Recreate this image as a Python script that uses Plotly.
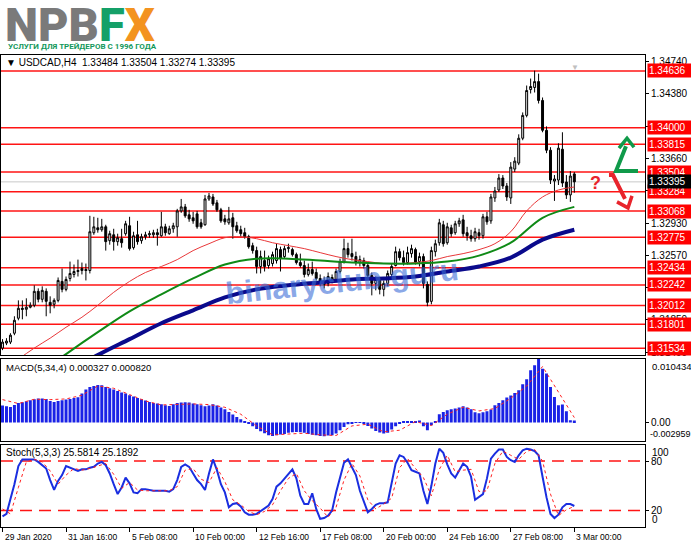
import plotly.graph_objects as go

W, H = 691, 549
FONT = "Liberation Sans, Arial, sans-serif"

# USDCAD H4, index 0 = 29 Jan 2020 00:00
opens = [1.31535, 1.31591, 1.31602, 1.31701, 1.31869, 1.31980, 1.31969, 1.31992, 1.32014, 1.32170,
         1.32081, 1.32170, 1.32047, 1.32025, 1.32069, 1.32281, 1.32192, 1.32314, 1.32359, 1.32392,
         1.32403, 1.32414, 1.32403, 1.32826, 1.32881, 1.32859, 1.32892, 1.32737, 1.32803, 1.32726,
         1.32759, 1.32815, 1.32904, 1.32659, 1.32803, 1.32737, 1.32781, 1.32803, 1.32803, 1.32826,
         1.32792, 1.32892, 1.32815, 1.32870, 1.32892, 1.33070, 1.33115, 1.33026, 1.32993, 1.33037,
         1.32937, 1.32915, 1.33204, 1.33226, 1.33160, 1.33082, 1.32981, 1.32937, 1.32993, 1.32904,
         1.32859, 1.32826, 1.32781, 1.32681, 1.32626, 1.32448, 1.32514, 1.32459, 1.32481, 1.32514,
         1.32637, 1.32559, 1.32648, 1.32637, 1.32581, 1.32492, 1.32459, 1.32359, 1.32414, 1.32381,
         1.32314, 1.32270, 1.32259, 1.32325, 1.32303, 1.32392, 1.32503, 1.32648, 1.32592, 1.32559,
         1.32492, 1.32514, 1.32459, 1.32347, 1.32259, 1.32292, 1.32192, 1.32259, 1.32359, 1.32459,
         1.32614, 1.32547, 1.32492, 1.32592, 1.32637, 1.32503, 1.32559, 1.32248, 1.32058, 1.32614,
         1.32714, 1.32915, 1.32714, 1.32881, 1.32826, 1.32926, 1.32970, 1.32826, 1.32792, 1.32759,
         1.32826, 1.32792, 1.33004, 1.32959, 1.33215, 1.33304, 1.33438, 1.33349, 1.33215, 1.33538,
         1.33605, 1.33883, 1.34139, 1.34428, 1.34451, 1.34517, 1.34306, 1.33972, 1.33749, 1.33404,
         1.33415, 1.33760, 1.33393, 1.33249, 1.33484]
highs = [1.31635, 1.31646, 1.31701, 1.31891, 1.32069, 1.32069, 1.32092, 1.32047, 1.32237, 1.32203,
         1.32226, 1.32203, 1.32114, 1.32092, 1.32325, 1.32425, 1.32336, 1.32503, 1.32470, 1.32525,
         1.32492, 1.32481, 1.33015, 1.33004, 1.32993, 1.32981, 1.32915, 1.32848, 1.32870, 1.32815,
         1.32870, 1.32959, 1.33004, 1.32837, 1.32959, 1.32815, 1.32837, 1.32848, 1.32859, 1.32870,
         1.33059, 1.32926, 1.32904, 1.32937, 1.33093, 1.33204, 1.33148, 1.33082, 1.33059, 1.33070,
         1.32981, 1.33249, 1.33271, 1.33260, 1.33193, 1.33104, 1.33026, 1.33115, 1.33048, 1.32948,
         1.32904, 1.32881, 1.32803, 1.32714, 1.32670, 1.32626, 1.32626, 1.32570, 1.32614, 1.32703,
         1.32670, 1.32681, 1.32703, 1.32659, 1.32603, 1.32592, 1.32514, 1.32481, 1.32503, 1.32425,
         1.32359, 1.32336, 1.32381, 1.32359, 1.32425, 1.32536, 1.32759, 1.32714, 1.32759, 1.32614,
         1.32570, 1.32547, 1.32492, 1.32381, 1.32336, 1.32325, 1.32292, 1.32403, 1.32481, 1.32670,
         1.32648, 1.32626, 1.32670, 1.32692, 1.32659, 1.32603, 1.32592, 1.32281, 1.32670, 1.32748,
         1.32981, 1.32959, 1.32937, 1.32915, 1.32959, 1.32993, 1.33026, 1.32892, 1.32859, 1.32881,
         1.32870, 1.33037, 1.33059, 1.33260, 1.33338, 1.33482, 1.33471, 1.33382, 1.33616, 1.33671,
         1.33927, 1.34172, 1.34473, 1.34551, 1.34640, 1.34606, 1.34339, 1.34016, 1.33783, 1.33471,
         1.33827, 1.33950, 1.33471, 1.33516, 1.33504]
lows = [1.31512, 1.31568, 1.31580, 1.31679, 1.31846, 1.31857, 1.31891, 1.31980, 1.31992, 1.32047,
        1.32047, 1.31891, 1.31924, 1.31980, 1.32047, 1.32159, 1.32170, 1.32281, 1.32325, 1.32336,
        1.32359, 1.32292, 1.32370, 1.32803, 1.32826, 1.32837, 1.32626, 1.32692, 1.32626, 1.32681,
        1.32659, 1.32792, 1.32626, 1.32637, 1.32692, 1.32703, 1.32748, 1.32770, 1.32770, 1.32681,
        1.32781, 1.32792, 1.32803, 1.32826, 1.32781, 1.33048, 1.32993, 1.32948, 1.32926, 1.32870,
        1.32870, 1.32904, 1.33182, 1.33126, 1.33059, 1.32937, 1.32915, 1.32915, 1.32759, 1.32826,
        1.32781, 1.32759, 1.32648, 1.32592, 1.32370, 1.32370, 1.32392, 1.32425, 1.32448, 1.32481,
        1.32392, 1.32536, 1.32603, 1.32559, 1.32470, 1.32436, 1.32325, 1.32336, 1.32347, 1.32292,
        1.32226, 1.32203, 1.32226, 1.32259, 1.32281, 1.32370, 1.32481, 1.32547, 1.32514, 1.32459,
        1.32448, 1.32425, 1.32314, 1.32125, 1.32181, 1.32136, 1.32114, 1.32226, 1.32314, 1.32448,
        1.32514, 1.32459, 1.32470, 1.32547, 1.32470, 1.32448, 1.32203, 1.32003, 1.32025, 1.32559,
        1.32681, 1.32670, 1.32692, 1.32781, 1.32803, 1.32892, 1.32781, 1.32737, 1.32726, 1.32726,
        1.32748, 1.32759, 1.32915, 1.32926, 1.33171, 1.33282, 1.33315, 1.33182, 1.33148, 1.33505,
        1.33582, 1.33861, 1.34117, 1.34384, 1.34395, 1.34272, 1.33950, 1.33716, 1.33371, 1.33182,
        1.33360, 1.33338, 1.33204, 1.33171, 1.33274]
closes = [1.31602, 1.31613, 1.31679, 1.31846, 1.31980, 1.31969, 1.31992, 1.32014, 1.32170, 1.32081,
          1.32181, 1.32058, 1.32014, 1.32069, 1.32292, 1.32192, 1.32303, 1.32370, 1.32392, 1.32403,
          1.32425, 1.32403, 1.32837, 1.32892, 1.32859, 1.32892, 1.32726, 1.32815, 1.32726, 1.32770,
          1.32714, 1.32926, 1.32648, 1.32792, 1.32726, 1.32781, 1.32803, 1.32815, 1.32826, 1.32803,
          1.32892, 1.32826, 1.32870, 1.32904, 1.33070, 1.33115, 1.33015, 1.32981, 1.32959, 1.32892,
          1.32892, 1.33204, 1.33237, 1.33148, 1.33082, 1.32959, 1.32948, 1.32981, 1.32892, 1.32848,
          1.32815, 1.32781, 1.32670, 1.32626, 1.32448, 1.32559, 1.32448, 1.32536, 1.32581, 1.32648,
          1.32536, 1.32648, 1.32659, 1.32581, 1.32492, 1.32459, 1.32359, 1.32414, 1.32370, 1.32314,
          1.32259, 1.32248, 1.32336, 1.32303, 1.32392, 1.32503, 1.32648, 1.32581, 1.32559, 1.32492,
          1.32525, 1.32459, 1.32347, 1.32259, 1.32303, 1.32192, 1.32259, 1.32370, 1.32448, 1.32614,
          1.32547, 1.32492, 1.32603, 1.32648, 1.32492, 1.32559, 1.32259, 1.32047, 1.32626, 1.32703,
          1.32937, 1.32703, 1.32892, 1.32815, 1.32926, 1.32959, 1.32815, 1.32792, 1.32759, 1.32837,
          1.32792, 1.33004, 1.32948, 1.33226, 1.33293, 1.33438, 1.33349, 1.33226, 1.33560, 1.33627,
          1.33883, 1.34139, 1.34417, 1.34462, 1.34517, 1.34306, 1.33972, 1.33749, 1.33415, 1.33427,
          1.33772, 1.33382, 1.33249, 1.33460, 1.33395]

# moving averages
ma_fast_idx = list(range(0, 145, 4))
ma_fast = [1.31290, 1.31412, 1.31535, 1.31646, 1.31768, 1.31880, 1.32014, 1.32159, 1.32281, 1.32381,
           1.32448, 1.32525, 1.32626, 1.32703, 1.32770, 1.32781, 1.32759, 1.32714, 1.32681, 1.32648,
           1.32603, 1.32559, 1.32525, 1.32503, 1.32481, 1.32481, 1.32492, 1.32514, 1.32559, 1.32592,
           1.32637, 1.32703, 1.32837, 1.33070, 1.33226, 1.33304, 1.33338]
ma_idx = list(range(0, 145, 8))
ma_mid = [1.30978, 1.31212, 1.31468, 1.31713, 1.31946, 1.32136, 1.32314, 1.32470, 1.32536, 1.32536,
          1.32514, 1.32492, 1.32481, 1.32481, 1.32503, 1.32570, 1.32714, 1.32993, 1.33115]
ma_slow = [1.30900, 1.31078, 1.31267, 1.31457, 1.31635, 1.31813, 1.31958, 1.32102, 1.32192, 1.32237,
           1.32270, 1.32303, 1.32314, 1.32336, 1.32392, 1.32448, 1.32547, 1.32748, 1.32859]

# MACD(5,34,4)
macd_main = [0.00279, 0.00268, 0.00257, 0.00290, 0.00322, 0.00333, 0.00350, 0.00366, 0.00383, 0.00394,
             0.00394, 0.00388, 0.00355, 0.00339, 0.00355, 0.00366, 0.00377, 0.00388, 0.00404, 0.00415,
             0.00476, 0.00541, 0.00585, 0.00601, 0.00618, 0.00612, 0.00585, 0.00563, 0.00541, 0.00519,
             0.00492, 0.00476, 0.00448, 0.00426, 0.00404, 0.00383, 0.00361, 0.00339, 0.00322, 0.00312,
             0.00301, 0.00284, 0.00273, 0.00301, 0.00322, 0.00328, 0.00333, 0.00328, 0.00312, 0.00301,
             0.00284, 0.00268, 0.00279, 0.00301, 0.00279, 0.00246, 0.00219, 0.00175, 0.00131, 0.00093,
             0.00055, 0.00022, -0.00011, -0.00060, -0.00104, -0.00142, -0.00175, -0.00208, -0.00219, -0.00208,
             -0.00197, -0.00186, -0.00169, -0.00159, -0.00153, -0.00159, -0.00169, -0.00186, -0.00202, -0.00208,
             -0.00219, -0.00224, -0.00213, -0.00208, -0.00180, -0.00126, -0.00071, -0.00027, -0.00011, -0.00005,
             -0.00005, -0.00016, -0.00055, -0.00098, -0.00137, -0.00164, -0.00180, -0.00169, -0.00115, -0.00060,
             -0.00016, 0.00016, 0.00022, 0.00027, 0.00027, 0.00033, -0.00060, -0.00126, -0.00044, 0.00027,
             0.00137, 0.00175, 0.00202, 0.00219, 0.00230, 0.00246, 0.00268, 0.00246, 0.00219, 0.00169,
             0.00153, 0.00169, 0.00186, 0.00213, 0.00284, 0.00322, 0.00366, 0.00410, 0.00443, 0.00486,
             0.00530, 0.00629, 0.00711, 0.00858, 0.00940, 0.01043, 0.00885, 0.00804, 0.00585, 0.00421,
             0.00284, 0.00295, 0.00186, 0.00038, 0.000327]
macd_sig_idx = list(range(0, 145, 4))
macd_signal = [0.00377, 0.00312, 0.00383, 0.00377, 0.00388, 0.00448, 0.00601, 0.00563, 0.00459, 0.00355,
               0.00290, 0.00295, 0.00306, 0.00295, 0.00251, 0.00137, -0.00055, -0.00202, -0.00191, -0.00175,
               -0.00202, -0.00213, -0.00055, -0.00027, -0.00153, -0.00126, 0.00016, -0.00049, 0.00137, 0.00251,
               0.00191, 0.00230, 0.00400, 0.00600, 0.00920, 0.00500, 0.00082]

# Stoch(5,3,3)
stoch_main = [13, 16, 34, 52, 74, 82, 82, 82, 82, 79, 75, 71, 57, 45, 56, 63, 74, 72, 70, 68,
              70, 70, 72, 73, 77, 79, 75, 65, 52, 40, 48, 60, 53, 42, 41, 46, 46, 45, 44, 44,
              44, 44, 43, 46, 57, 73, 76, 73, 65, 57, 52, 45, 65, 82, 69, 52, 42, 24, 28, 29,
              25, 18, 15, 15, 16, 19, 22, 26, 34, 49, 53, 59, 65, 70, 59, 38, 28, 28, 41, 22,
              10, 11, 14, 20, 42, 61, 78, 82, 73, 63, 44, 30, 18, 22, 27, 29, 29, 30, 52, 77,
              87, 85, 78, 69, 67, 65, 44, 28, 50, 77, 95, 90, 76, 65, 60, 69, 77, 73, 61, 33,
              36, 40, 59, 83, 89, 94, 94, 85, 81, 79, 87, 93, 95, 94, 92, 87, 61, 36, 16, 11,
              15, 24, 28, 28, 25.5814]
stoch_sig_idx = list(range(0, 145, 2))
stoch_signal = [22, 16, 48, 79, 82, 79, 68, 52, 63, 71, 69, 71, 74, 77, 64, 47, 54, 45, 44, 44,
                44, 44, 49, 69, 71, 58, 54, 72, 55, 33, 27, 19, 15, 19, 27, 44, 59, 65, 44, 32,
                23, 12, 24, 57, 77, 62, 33, 22, 28, 35, 72, 83, 71, 60, 38, 70, 87, 67, 69, 70,
                43, 44, 77, 92, 87, 82, 92, 94, 80, 40, 14, 21, 25.1892]

levels = [1.34636, 1.34000, 1.33815, 1.33504, 1.33284, 1.33068, 1.32775,
          1.32434, 1.32242, 1.32012, 1.31801, 1.31534]
last_price = 1.33395
price_ticks = [1.3474, 1.3438, 1.3402, 1.3366, 1.3330, 1.3293, 1.3257, 1.3221, 1.3185, 1.3149]
price_tick_text = ["1.34740", "1.34380", "1.34020", "1.33660", "1.33300",
                   "1.32930", "1.32570", "1.32210", "1.31850", "1.31490"]
time_pos = [0, 16, 32, 48, 64, 80, 96, 112, 128, 144]
time_labels = ["29 Jan 2020", "31 Jan 16:00", "5 Feb 08:00", "10 Feb 00:00", "12 Feb 16:00",
               "17 Feb 08:00", "20 Feb 00:00", "24 Feb 16:00", "27 Feb 08:00", "3 Mar 00:00"]


def px(x):
    return x / W


def py(y):
    return 1 - y / H


def path(points):
    return "M " + " L ".join(f"{px(a):.4f},{py(b):.4f}" for a, b in points)


idx = list(range(len(closes)))
fig = go.Figure()

fig.add_trace(go.Candlestick(
    x=idx, open=opens, high=highs, low=lows, close=closes,
    increasing=dict(line=dict(color="black", width=1), fillcolor="#e6e6e6"),
    decreasing=dict(line=dict(color="black", width=1), fillcolor="black"),
    whiskerwidth=0, xaxis="x", yaxis="y", hoverinfo="skip"))
fig.add_trace(go.Scatter(x=ma_fast_idx, y=ma_fast, mode="lines", line=dict(color="#e8383a", width=1, shape="spline"),
                         xaxis="x", yaxis="y"))
fig.add_trace(go.Scatter(x=ma_idx, y=ma_mid, mode="lines", line=dict(color="#0f8a16", width=2, shape="spline"),
                         xaxis="x", yaxis="y"))
fig.add_trace(go.Scatter(x=ma_idx, y=ma_slow, mode="lines", line=dict(color="#0a0a8c", width=4, shape="spline"),
                         xaxis="x", yaxis="y"))

fig.add_trace(go.Bar(x=idx, y=macd_main, marker=dict(color="#1a22e6", line=dict(width=0)),
                     xaxis="x2", yaxis="y2"))
fig.add_trace(go.Scatter(x=macd_sig_idx, y=macd_signal, mode="lines",
                         line=dict(color="#ff2020", width=1, dash="dot"), xaxis="x2", yaxis="y2"))

fig.add_trace(go.Scatter(x=idx, y=stoch_main, mode="lines", line=dict(color="#1a2ee0", width=2),
                         xaxis="x3", yaxis="y3"))
fig.add_trace(go.Scatter(x=stoch_sig_idx, y=stoch_signal, mode="lines",
                         line=dict(color="#ff2020", width=1, dash="dot"), xaxis="x3", yaxis="y3"))

xr = [-0.38, 161.8]
xdom = [px(1), px(645)]
ax = dict(range=xr, domain=xdom, showgrid=False, zeroline=False, showline=True, linecolor="black",
          linewidth=1, mirror=True, showticklabels=False, fixedrange=True)
ay = dict(side="right", showgrid=False, zeroline=False, showline=True, linecolor="black", linewidth=1,
          mirror=True, ticks="outside", ticklen=3, tickcolor="black", fixedrange=True,
          tickfont=dict(family=FONT, size=10, color="black"))

shapes = []
for lv in levels:
    shapes.append(dict(type="line", xref="paper", x0=xdom[0], x1=xdom[1], yref="y", y0=lv, y1=lv,
                       line=dict(color="#ff1414", width=1.5), layer="below"))
shapes.append(dict(type="line", xref="paper", x0=xdom[0], x1=xdom[1], yref="y", y0=last_price, y1=last_price,
                   line=dict(color="#c8c8c8", width=1), layer="below"))
for lv in (80, 20):
    shapes.append(dict(type="line", xref="paper", x0=xdom[0], x1=xdom[1], yref="y3", y0=lv, y1=lv,
                       line=dict(color="#ff1414", width=1.5, dash="12px,7px"), layer="below"))

# hand drawn arrows on the right
green = "#109a4a"
red = "#e8242c"
shapes.append(dict(type="path", xref="paper", yref="paper", path=path([(638, 172), (616, 172), (626, 147)]),
                   line=dict(color=green, width=4)))
shapes.append(dict(type="path", xref="paper", yref="paper", path=path([(619, 149), (627, 139), (634, 148)]),
                   line=dict(color=green, width=3.5)))
shapes.append(dict(type="path", xref="paper", yref="paper", path=path([(609, 176), (613, 176), (625, 200)]),
                   line=dict(color=red, width=4)))
shapes.append(dict(type="path", xref="paper", yref="paper", path=path([(617, 203), (628, 209), (632, 197)]),
                   line=dict(color=red, width=3.5)))

ann = []
# logo
ann.append(dict(xref="paper", yref="paper", x=px(3), y=py(25), xanchor="left", yanchor="middle", showarrow=False,
                text="<span style='color:#7a7a7a'>NPB</span><span style='color:#14a068'>F</span>"
                     "<span style='color:#f39320'>X</span>",
                font=dict(family="Roboto, Liberation Sans", size=47, weight=900)))
ann.append(dict(xref="paper", yref="paper", x=px(6), y=py(47), xanchor="left", yanchor="middle", showarrow=False,
                text="<b>УСЛУГИ ДЛЯ ТРЕЙДЕРОВ С 1996 ГОДА</b>",
                font=dict(family="Roboto, Liberation Sans", size=8, color="#14985c")))
# panel headers
ann.append(dict(xref="paper", yref="paper", x=px(4), y=py(63), xanchor="left", yanchor="middle", showarrow=False,
                text="▼ USDCAD,H4&nbsp;&nbsp;1.33484 1.33504 1.33274 1.33395",
                font=dict(family=FONT, size=10, color="black")))
ann.append(dict(xref="paper", yref="paper", x=px(4), y=py(370), xanchor="left", yanchor="middle", showarrow=False,
                text="MACD(5,34,4) 0.000327 0.000820", font=dict(family=FONT, size=9.5, color="black")))
ann.append(dict(xref="paper", yref="paper", x=px(4), y=py(455), xanchor="left", yanchor="middle", showarrow=False,
                text="Stoch(5,3,3) 25.5814 25.1892", font=dict(family=FONT, size=10, color="black")))
ann.append(dict(xref="paper", yref="paper", x=px(581), y=py(59), showarrow=False, text="▼",
                font=dict(size=8, color="#c0c0c0")))
# watermark
ann.append(dict(xref="paper", yref="paper", x=px(342), y=py(283), showarrow=False, text="<b>binaryclub.guru</b>",
                textangle=-6, font=dict(family=FONT, size=31, color="rgba(60,110,215,0.6)")))
ann.append(dict(xref="paper", yref="paper", x=px(603), y=py(184), showarrow=False, text="<b>?</b>",
                font=dict(family=FONT, size=18, color=red)))
# price boxes
for lv in levels:
    ann.append(dict(xref="paper", yref="y", x=px(647), y=lv, xanchor="left", yanchor="middle", showarrow=False,
                    text=f"{lv:.5f}", bgcolor="#ff0000", borderpad=1, width=42, height=11, align="left",
                    font=dict(family=FONT, size=10, color="white")))
ann.append(dict(xref="paper", yref="y", x=px(647), y=last_price, xanchor="left", yanchor="middle", showarrow=False,
                text=f"{last_price:.5f}", bgcolor="black", borderpad=1, width=42, height=11, align="left",
                font=dict(family=FONT, size=10, color="white")))
# indicator scale labels
ann.append(dict(xref="paper", yref="y2", x=px(650), y=0.010434, xanchor="left", yanchor="top", showarrow=False,
                text="0.010434", font=dict(family=FONT, size=9.5, color="black")))
ann.append(dict(xref="paper", yref="y2", x=px(648), y=-0.002959, xanchor="left", yanchor="bottom", showarrow=False,
                text="-0.002959", font=dict(family=FONT, size=9, color="black")))
ann.append(dict(xref="paper", yref="y3", x=px(650), y=100, xanchor="left", yanchor="top", showarrow=False,
                text="100", font=dict(family=FONT, size=10, color="black")))
ann.append(dict(xref="paper", yref="y3", x=px(650), y=0, xanchor="left", yanchor="bottom", showarrow=False,
                text="0", font=dict(family=FONT, size=10, color="black")))
# time labels
for pos, lab in zip(time_pos, time_labels):
    ann.append(dict(xref="x3", yref="paper", x=pos, y=py(540), xanchor="left", yanchor="middle", showarrow=False,
                    text=lab, font=dict(family=FONT, size=8.5, color="black")))

fig.update_layout(
    width=W, height=H,
    margin=dict(l=0, r=0, t=0, b=0),
    paper_bgcolor="white", plot_bgcolor="white",
    showlegend=False, bargap=0.25,
    xaxis=dict(ax, anchor="y", rangeslider=dict(visible=False)),
    xaxis2=dict(ax, anchor="y2"),
    xaxis3=dict(ax, anchor="y3", tickvals=time_pos, ticks="outside", ticklen=4, tickcolor="black"),
    yaxis=dict(ay, anchor="x", domain=[py(357), py(55)], range=[1.31457, 1.34818],
               tickvals=price_ticks, ticktext=price_tick_text),
    yaxis2=dict(ay, anchor="x2", domain=[py(443), py(361)], range=[-0.002959, 0.010434],
                tickvals=[0], ticktext=["0.00"]),
    yaxis3=dict(ay, anchor="x3", domain=[py(530), py(447)], range=[0, 100],
                tickvals=[20, 80], ticktext=["20", "80"]),
    shapes=shapes,
    annotations=ann,
)

# page without the default body margin, so the 691x549 figure fills the window
fig.write_html("out.html", config={"displayModeBar": False},
               post_script="document.body.style.margin='0';document.body.style.overflow='hidden';")
